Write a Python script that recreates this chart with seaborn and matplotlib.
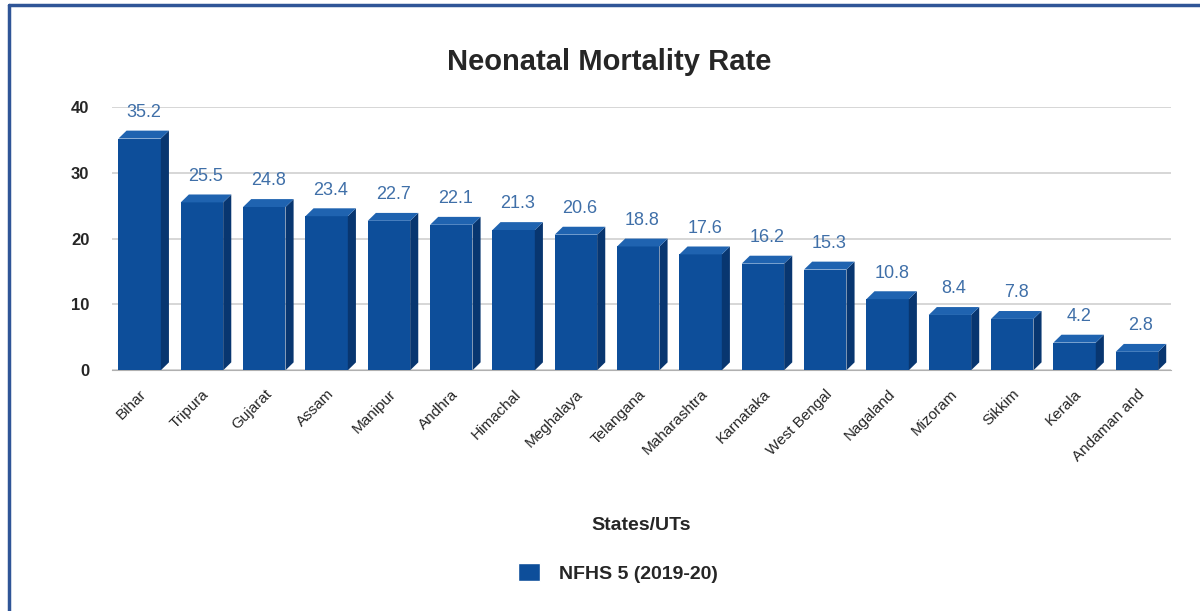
import matplotlib
matplotlib.use("Agg")
from matplotlib import pyplot as plt
from matplotlib.patches import Polygon, Rectangle
import pandas as pd
import seaborn as sns

# Data
states = ["Bihar", "Tripura", "Gujarat", "Assam", "Manipur", "Andhra", "Himachal",
          "Meghalaya", "Telangana", "Maharashtra", "Karnataka", "West Bengal",
          "Nagaland", "Mizoram", "Sikkim", "Kerala", "Andaman and"]
nmr = [35.2, 25.5, 24.8, 23.4, 22.7, 22.1, 21.3, 20.6, 18.8, 17.6, 16.2, 15.3,
       10.8, 8.4, 7.8, 4.2, 2.8]
series_name = "NFHS 5 (2019-20)"

df = pd.DataFrame({"State": states, "NMR": nmr})

front = "#0d4e9a"
side = "#083670"
top = "#1f63b0"

sns.set_style("white")
plt.rcParams["font.family"] = ["Liberation Sans", "DejaVu Sans"]

f = plt.figure(figsize=(12, 6.11), dpi=100)
ax = f.add_axes([0.093, 0.394, 0.883, 0.431])

sns.barplot(data=df, x="State", y="NMR", color=front, width=0.68,
            saturation=1, linewidth=0, ax=ax, zorder=3)

# fake 3D depth on each bar
dx, dy = 0.13, 1.2
for p in ax.patches:
    x0, w, h = p.get_x(), p.get_width(), p.get_height()
    ax.add_patch(Polygon([(x0 + w, 0), (x0 + w + dx, dy), (x0 + w + dx, h + dy), (x0 + w, h)],
                         closed=True, facecolor=side, edgecolor="none", zorder=3))
    ax.add_patch(Polygon([(x0, h), (x0 + dx, h + dy), (x0 + w + dx, h + dy), (x0 + w, h)],
                         closed=True, facecolor=top, edgecolor="none", zorder=3))
    ax.annotate(f"{h:.1f}", (x0 + w / 2 + dx / 2, h + dy), xytext=(0, 7),
                textcoords="offset points", ha="center", va="bottom",
                fontsize=13, color="#3f6fa8", zorder=4)

ax.set_ylim(0, 40)
ax.set_xlim(-0.45, len(states) - 0.45)
ax.set_yticks([0, 10, 20, 30, 40])
ax.tick_params(axis="y", labelsize=12, length=0, pad=16)
ax.tick_params(axis="x", labelsize=11, length=0, pad=12)
for t in ax.get_yticklabels():
    t.set_fontweight("bold")
plt.xticks(rotation=45, ha="right", rotation_mode="anchor")
ax.yaxis.grid(True, color="#d0d0d0", linewidth=1.2, zorder=0)
for s in ["top", "right", "left"]:
    ax.spines[s].set_visible(False)
ax.spines["bottom"].set_color("#b0b0b0")
ax.spines["bottom"].set_zorder(2)

ax.set_ylabel("")
ax.set_xlabel("States/UTs", fontsize=14, fontweight="bold", labelpad=38)
f.suptitle("Neonatal Mortality Rate", fontsize=21, fontweight="bold", x=0.508, y=0.922)

handle = Rectangle((0, 0), 1, 1, facecolor=front)
f.legend([handle], [series_name], loc="center", bbox_to_anchor=(0.515, 0.062),
         frameon=False, prop={"size": 14, "weight": "bold"}, handlelength=1.1,
         handleheight=1.0, handletextpad=1.0)

# dark blue frame on top and left
f.add_artist(plt.Line2D([0.0075, 0.0075], [0, 0.992], color="#2f5597", linewidth=2.5,
                        transform=f.transFigure))
f.add_artist(plt.Line2D([0.0075, 1], [0.992, 0.992], color="#2f5597", linewidth=2.5,
                        transform=f.transFigure))

plt.savefig("out.png", dpi=100)
